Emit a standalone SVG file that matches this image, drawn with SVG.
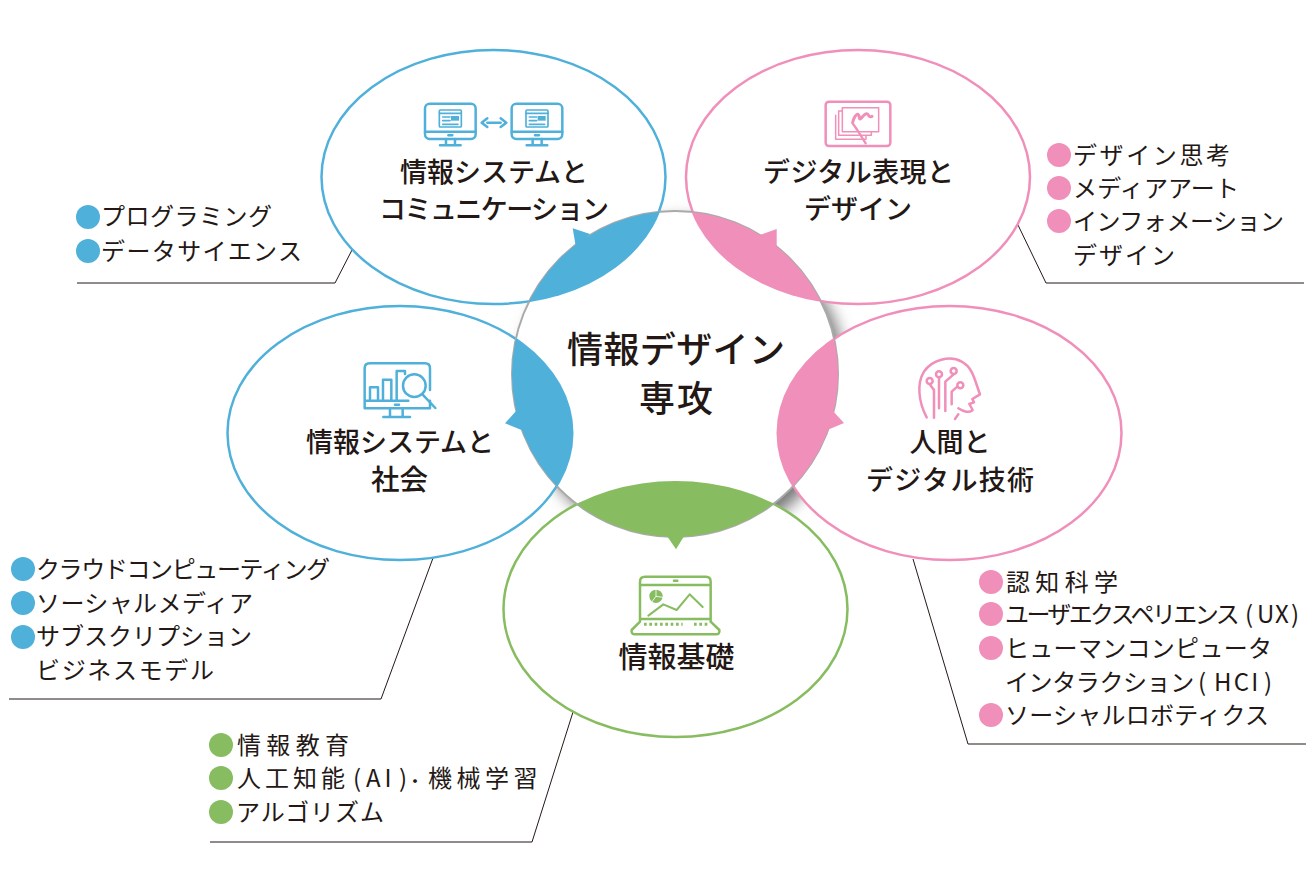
<svg xmlns="http://www.w3.org/2000/svg" width="1312" height="887" viewBox="0 0 1312 887">
<style>
text{font-family:"Noto Sans CJK JP","Noto Sans",sans-serif;fill:#231815;font-weight:400;font-size:24px}
.t{font-size:27px;font-weight:500;text-anchor:middle}
.c{font-size:36px;font-weight:500;text-anchor:middle}
.l{fill:none;stroke:#231815;stroke-width:1}
.e{fill:#fff;stroke-width:2.5}
.bs{stroke:#4fb0da}.ps{stroke:#f08fba}.gs{stroke:#87bc60}
.bf{fill:#4fb0da}.pf{fill:#f08fba}.gf{fill:#87bc60}
.ic{fill:none;stroke-width:7.5;stroke-linecap:round;stroke-linejoin:round}
</style>
<defs>
<clipPath id="cc"><circle cx="675" cy="374" r="163"/></clipPath>
<filter id="sh" x="-20%" y="-20%" width="140%" height="140%"><feGaussianBlur stdDeviation="8"/></filter>
<g id="mon"><rect x="75" y="71" width="152" height="106" rx="14"/><path d="M75 155H227M138 177V195M165 177V195M120 196H182M145 166H157"/><rect x="118" y="90" width="66" height="51" rx="3" stroke-width="5"/><path d="M118 100H184M128 111H150M128 122H150M128 133H174" stroke-width="5"/><rect x="153" y="108" width="24" height="14" fill="#4fb0da" stroke="none"/></g>
</defs>
<circle cx="683" cy="382" r="163" fill="#777" filter="url(#sh)"/>
<g id="connectors">
<path class="l" d="M352 250L335 283H77"/>
<path class="l" d="M1018 225L1046 283H1304"/>
<path class="l" d="M433 558L381 699H9"/>
<path class="l" d="M913 559L968 744H1306"/>
<path class="l" d="M573 712L532 842H210"/>
</g>
<g id="node-tl"><ellipse class="e bs" cx="493.5" cy="177" rx="172" ry="127"/></g>
<g id="node-tr"><ellipse class="e ps" cx="858" cy="177" rx="172" ry="127"/></g>
<g id="node-l"><ellipse class="e bs" cx="400" cy="433" rx="172.500" ry="127"/></g>
<g id="node-r"><ellipse class="e ps" cx="949.500" cy="433" rx="172" ry="127"/></g>
<g id="node-b"><ellipse class="e gs" cx="675.500" cy="609" rx="172" ry="128"/></g>
<g id="center">
<circle cx="675" cy="374" r="163" fill="#fff" stroke="#aaa" stroke-width="2"/>
<g clip-path="url(#cc)">
<ellipse class="bf" cx="493.500" cy="177" rx="173" ry="128"/>
<ellipse class="pf" cx="858" cy="177" rx="173" ry="128"/>
<ellipse class="bf" cx="400" cy="433" rx="173.500" ry="128"/>
<ellipse class="pf" cx="949.500" cy="433" rx="173" ry="128"/>
<ellipse class="gf" cx="675.500" cy="609" rx="173" ry="128"/>
</g>
<polygon class="bf" points="572.700,228.300 590,234 576,248"/>
<polygon class="pf" points="776.700,229 760,235 776.700,248"/>
<polygon class="bf" points="505,423.300 517,410 524,431"/>
<polygon class="pf" points="844,423 832,410 825,431"/>
<polygon class="gf" points="665,533 676,549.300 686,533"/>
<text class="c" x="676" y="363" textLength="218" lengthAdjust="spacing">情報デザイン</text>
<text class="c" x="676" y="412" textLength="74" lengthAdjust="spacing">専攻</text>
</g>
<g id="label-tl">
<g transform="translate(400 80) scale(.3333)" class="ic bs"><use href="#mon"/><use href="#mon" x="260"/><path d="M262 115L245 128L262 141M302 115L319 128L302 141M262 128H302"/></g>
<text class="t" x="494" y="182">情報システムと</text><text class="t" x="494" y="219" textLength="230" lengthAdjust="spacing">コミュニケーション</text>
</g>
<g id="label-tr">
<g transform="translate(800 85) scale(.3333)" class="ic ps"><rect x="77" y="50" width="194" height="133" rx="10"/><path d="M127 68H236V140H127Z M127 78H116V151H214V140 M107 91V163H198V151" stroke-width="4.500"/><path d="M158 112C165 85 178 82 178 98C180 112 190 85 200 86C208 88 205 100 216 94" stroke-width="9"/><path d="M158 115L172 135L197 175" stroke-width="7"/></g>
<text class="t" x="858.500" y="182" textLength="191" lengthAdjust="spacing">デジタル表現と</text><text class="t" x="858" y="219">デザイン</text>
</g>
<g id="label-l">
<g transform="translate(350 350) scale(.3333)" class="ic bs"><path d="M175 152H44V55Q44 40 59 40H225Q240 40 240 55V120M240 152V175H44V152M60 152V112H84V152M99 152V89H124V152M140 152V63H165V72M120 175V200M158 175V200M100 201H180M135 164H147"/><circle cx="193" cy="107" r="34"/><path d="M218 134L256 174"/></g>
<text class="t" x="400" y="452">情報システムと</text><text class="t" x="399.500" y="490" style="font-size:28.500px">社会</text>
</g>
<g id="label-r">
<g transform="translate(900 345) scale(.3333)" class="ic ps"><path d="M80 217C55 170 50 115 72 80C95 45 150 30 185 50C220 68 225 110 240 148L217 162L222 172L208 177L218 195C210 205 190 200 175 190M165 222L175 208"/><circle cx="89" cy="108" r="9"/><circle cx="117" cy="88" r="9"/><circle cx="161" cy="78" r="9"/><circle cx="181" cy="121" r="9"/><path d="M89 118L102 135V218M117 98V190M161 88L136 110V198M172 125L155 140V178"/></g>
<text class="t" x="950" y="452">人間と</text><text class="t" x="950" y="490" textLength="168" lengthAdjust="spacing">デジタル技術</text>
</g>
<g id="label-b">
<g transform="translate(620 565) scale(.3333)" class="ic gs"><path d="M60 170V50Q60 35 75 35H258Q272 35 272 50V170M60 60H272M60 162H272M60 170L35 195Q33 208 45 208H288Q300 208 298 195L272 170M162 47H172"/><path d="M85 152L130 118L170 135L209 88L248 126" stroke-width="6"/><circle cx="108" cy="94" r="20" fill="#87bc60" stroke="none"/><path d="M108 74V94L128 97M108 94L96 110" stroke="#fff" stroke-width="2.500"/><path d="M72 178H188M222 178H264" stroke-dasharray="8 8" stroke-width="9" stroke-linecap="butt"/></g>
<text class="t" x="676.500" y="668" style="font-size:29px">情報基礎</text>
</g>
<g id="list-tl">
<circle class="bf" cx="88" cy="217" r="12"/><circle class="bf" cx="88" cy="251" r="12"/>
<text x="101" y="225" textLength="171" lengthAdjust="spacing">プログラミング</text>
<text x="101" y="260" textLength="201" lengthAdjust="spacing">データサイエンス</text>
</g>
<g id="list-tr">
<circle class="pf" cx="1059" cy="155" r="12"/><circle class="pf" cx="1059" cy="188" r="12"/><circle class="pf" cx="1059" cy="221" r="12"/>
<text x="1073" y="164" textLength="157" lengthAdjust="spacing">デザイン思考</text>
<text x="1073" y="197" textLength="166" lengthAdjust="spacing">メディアアート</text>
<text x="1073" y="230" textLength="211" lengthAdjust="spacing">インフォメーション</text>
<text x="1073" y="264" textLength="102" lengthAdjust="spacing">デザイン</text>
</g>
<g id="list-l">
<circle class="bf" cx="23" cy="569" r="12"/><circle class="bf" cx="23" cy="603" r="12"/><circle class="bf" cx="23" cy="637" r="12"/>
<text x="36" y="578" textLength="294" lengthAdjust="spacing">クラウドコンピューティング</text>
<text x="36" y="612" textLength="217" lengthAdjust="spacing">ソーシャルメディア</text>
<text x="36" y="645" textLength="216" lengthAdjust="spacing">サブスクリプション</text>
<text x="36" y="679" textLength="178" lengthAdjust="spacing">ビジネスモデル</text>
</g>
<g id="list-r">
<circle class="pf" cx="991" cy="582" r="12"/><circle class="pf" cx="991" cy="614" r="12"/><circle class="pf" cx="991" cy="648" r="12"/><circle class="pf" cx="991" cy="715" r="12"/>
<text x="1006" y="591" textLength="112" lengthAdjust="spacing">認知科学</text>
<text x="1005" y="623"><tspan letter-spacing="-2.600">ユーザエクスペリエンス</tspan><tspan x="1245">(</tspan><tspan x="1257" letter-spacing="1">UX</tspan><tspan x="1291">)</tspan></text>
<text x="1005" y="657" textLength="267" lengthAdjust="spacing">ヒューマンコンピュータ</text>
<text x="1005" y="691"><tspan letter-spacing="-.400">インタラクション</tspan><tspan x="1198">(</tspan><tspan x="1214" letter-spacing="2.200">HCI</tspan><tspan x="1264">)</tspan></text>
<text x="1005" y="724" textLength="264" lengthAdjust="spacing">ソーシャルロボティクス</text>
</g>
<g id="list-b">
<circle class="gf" cx="221" cy="745" r="12"/><circle class="gf" cx="221" cy="778" r="12"/><circle class="gf" cx="221" cy="812" r="12"/>
<text x="237" y="754" textLength="112" lengthAdjust="spacing">情報教育</text>
<text x="237" y="787"><tspan letter-spacing="4">人工知能</tspan><tspan x="353">(</tspan><tspan x="366" letter-spacing="4">AI</tspan><tspan x="399">)</tspan><tspan x="407.500" style="font-size:15px;font-weight:700">・</tspan><tspan x="428" letter-spacing="4.500">機械学習</tspan></text>
<text x="236" y="821" textLength="148" lengthAdjust="spacing">アルゴリズム</text>
</g>
</svg>
